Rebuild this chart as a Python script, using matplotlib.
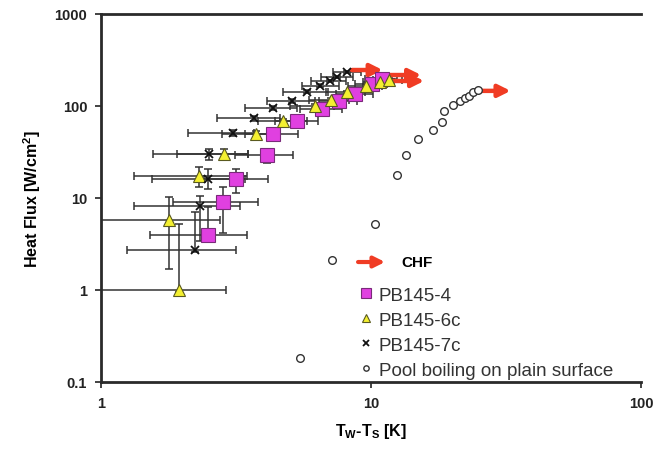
import matplotlib
matplotlib.use("Agg")
import matplotlib.pyplot as plt
import numpy as np

plt.rcParams['font.family'] = ['Liberation Sans', 'DejaVu Sans']
plt.rcParams['mathtext.default'] = 'regular'

# PB145-4 (magenta squares)
pb4_x = [2.48, 2.82, 3.15, 4.11, 4.32, 5.31, 6.57, 7.6, 8.7, 10.1, 11.0]
pb4_y = [4.0, 9.0, 16.0, 29.0, 50, 69, 93, 114, 136, 172, 195]
pb4_xlo = [1.52, 1.85, 2.4, 3.13, 3.41, 4.4, 5.46, 6.4, 7.4, 8.7, 9.5]
pb4_xhi = [3.46, 3.82, 4.16, 5.16, 5.37, 6.38, 7.8, 8.9, 10.2, 11.5, 12.5]
pb4_ylo = [3.6, 4.2, 11.4, 24, 46, 64, 88, 108, 130, 165, 188]
pb4_yhi = [8.0, 13.1, 20.5, 32.6, 54, 74, 98, 120, 142, 179, 202]

# PB145-6c (yellow triangles)
pb6_x = [1.95, 1.79, 2.31, 2.86, 3.75, 4.71, 6.2, 7.1, 8.13, 9.58, 10.8, 11.7]
pb6_y = [1.0, 5.8, 17.2, 30, 49.6, 69, 99, 117, 141, 166, 181, 193]
pb6_xlo = [1.0, 0.95, 1.33, 1.91, 2.81, 3.8, 5.0, 5.9, 6.8, 8.2, 9.3, 10.2]
pb6_xhi = [2.9, 2.76, 3.46, 3.51, 4.6, 5.8, 7.3, 8.3, 9.5, 11.0, 12.2, 13.0]
pb6_ylo = [0.95, 1.69, 13.1, 26, 46, 65, 94, 112, 135, 160, 175, 187]
pb6_yhi = [5.2, 10.2, 21.5, 34, 54, 73, 104, 122, 147, 172, 187, 199]

# PB145-7c (black stars)
pb7_x = [2.23, 2.33, 2.5, 2.52, 3.07, 3.69, 4.35, 5.09, 5.78, 6.47, 7.05, 7.5, 8.13]
pb7_y = [2.74, 8.13, 16.1, 30, 50.9, 73.5, 94.4, 114, 143, 166, 188, 205, 236]
pb7_xlo = [1.25, 1.33, 1.54, 1.56, 2.1, 2.68, 3.41, 4.11, 4.73, 5.53, 6.0, 6.5, 7.2]
pb7_xhi = [3.16, 3.27, 3.4, 3.51, 3.7, 4.6, 5.3, 6.2, 6.9, 7.6, 8.1, 8.6, 9.2]
pb7_ylo = [2.6, 3.4, 12.5, 26, 47, 69, 90, 109, 137, 160, 182, 199, 229]
pb7_yhi = [7.05, 10.5, 20.5, 34, 55, 78, 99, 119, 149, 172, 194, 211, 243]

# pool boiling on plain surface
pool_x = [5.46, 7.17, 10.35, 12.5, 13.5, 14.9, 17.0, 18.3, 18.6, 20.1, 21.3, 22.3, 23.1, 23.9, 24.9]
pool_y = [0.182, 2.12, 5.2, 17.8, 29.3, 43.7, 54.8, 67, 88, 102, 113, 122, 128, 142, 149]

# CHF arrows (start points)
chf_x = [8.5, 11.8, 12.1, 25.3]
chf_y = [246, 217, 187, 146]

fig = plt.figure(figsize=(6.66, 4.64), dpi=100)
ax = fig.add_axes([0.1517, 0.1746, 0.8108, 0.7931])

ebar = dict(fmt='none', ecolor='#333333', elinewidth=1.1, capsize=3, capthick=1.1, zorder=2)


def draw_series(x, y, xlo, xhi, ylo, yhi):
    x = np.array(x); y = np.array(y)
    xerr = [x - np.array(xlo), np.array(xhi) - x]
    yerr = [y - np.array(ylo), np.array(yhi) - y]
    ax.errorbar(x, y, xerr=xerr, yerr=yerr, **ebar)


draw_series(pb7_x, pb7_y, pb7_xlo, pb7_xhi, pb7_ylo, pb7_yhi)
draw_series(pb6_x, pb6_y, pb6_xlo, pb6_xhi, pb6_ylo, pb6_yhi)
draw_series(pb4_x, pb4_y, pb4_xlo, pb4_xhi, pb4_ylo, pb4_yhi)

for x, y in zip(chf_x, chf_y):
    ax.annotate('', xy=(x * 1.3, y), xytext=(x, y),
                arrowprops=dict(arrowstyle='-|>', color='#f03c24', lw=3.2, mutation_scale=18,
                                shrinkA=0, shrinkB=0), zorder=3)

ax.plot(pb4_x, pb4_y, 's', ms=9.5, mfc='#e040e0', mec='#7a2a7a', mew=0.8, ls='none',
        zorder=4, label='PB145-4')
ax.plot(pb6_x, pb6_y, '^', ms=9, mfc='#f4f030', mec='#5a5a20', mew=0.8, ls='none',
        zorder=4, label='PB145-6c')
ax.plot(pb7_x, pb7_y, 'x', ms=6, mec='#111111', mew=1.3, ls='none',
        zorder=4, label='PB145-7c')
ax.plot(pool_x, pool_y, 'o', ms=5.5, mfc='white', mec='#333333', mew=1.0, ls='none',
        zorder=4, label='Pool boiling on plain surface')

ax.set_xscale('log')
ax.set_yscale('log')
ax.set_xlim(1, 100)
ax.set_ylim(0.1, 1000)
ax.set_xticks([1, 10, 100])
ax.set_xticklabels(['1', '10', '100'])
ax.set_yticks([0.1, 1, 10, 100, 1000])
ax.set_yticklabels(['0.1', '1', '10', '100', '1000'])
ax.minorticks_off()
ax.tick_params(axis='both', direction='out', length=4, width=1.2, colors='#222222',
               labelsize=10.5, pad=6)
for lab in ax.get_xticklabels() + ax.get_yticklabels():
    lab.set_fontweight('bold')

for side in ['left', 'bottom', 'top']:
    ax.spines[side].set_linewidth(2)
    ax.spines[side].set_color('#2a2a2a')
ax.spines['right'].set_visible(False)

ax.set_xlabel(r'T$_{W}$-T$_{S}$ [K]', fontsize=11.5, fontweight='bold', labelpad=8)
ax.set_ylabel(r'Heat Flux [W/cm$^{2}$]', fontsize=11.5, fontweight='bold', labelpad=8)

# CHF legend entry
ax.annotate('', xy=(0.526, 0.326), xytext=(0.476, 0.326), xycoords='axes fraction',
            arrowprops=dict(arrowstyle='-|>', color='#f03c24', lw=3, mutation_scale=16,
                            shrinkA=0, shrinkB=0))
ax.text(0.557, 0.326, 'CHF', transform=ax.transAxes, fontsize=11, fontweight='bold',
        va='center', ha='left')

leg = ax.legend(loc='lower left', bbox_to_anchor=(0.455, -0.027), frameon=False,
                fontsize=13.5, handlelength=0.7, handletextpad=0.3, labelspacing=0.42,
                borderpad=0.2, markerscale=0.7)
for t in leg.get_texts():
    t.set_color('#333333')

fig.savefig('out.png', dpi=100)
